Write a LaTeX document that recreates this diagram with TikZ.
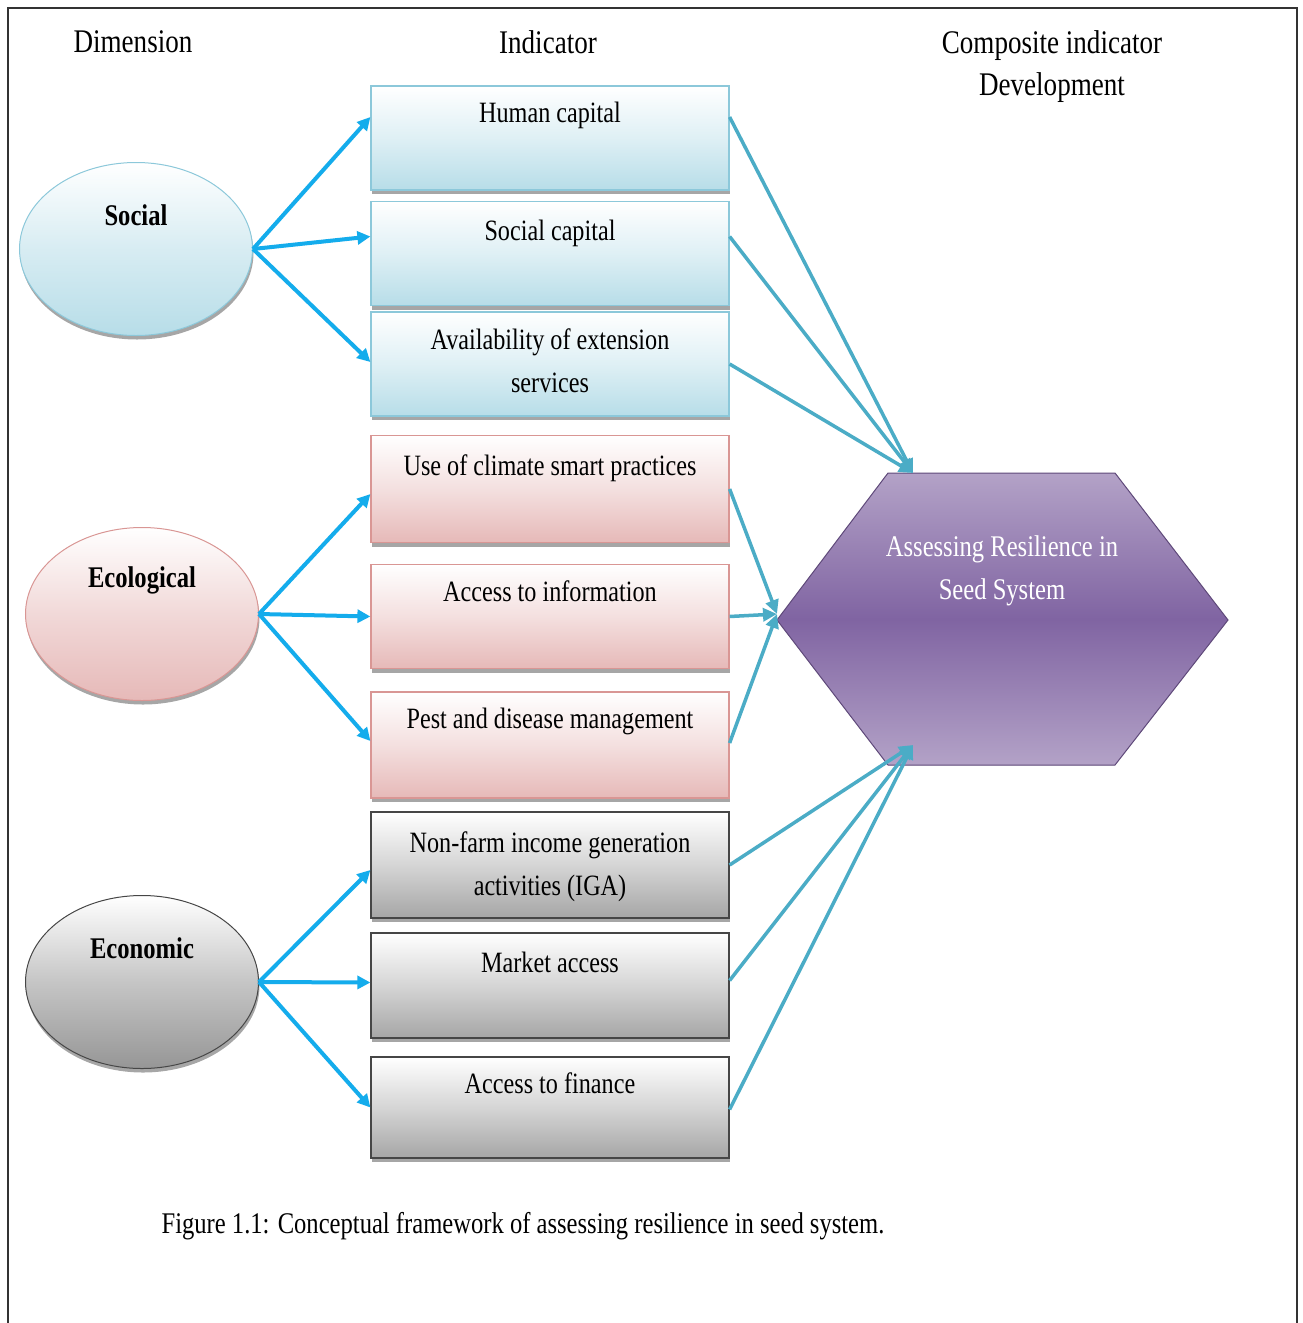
\documentclass[tikz,border=0pt]{standalone}
\usepackage{fontspec}
\setmainfont{Liberation Serif}[FakeStretch=0.82]
\usetikzlibrary{shapes.geometric,shadows,arrows.meta}
\definecolor{cyanA}{RGB}{20,172,236}
\definecolor{tealA}{RGB}{75,172,198}
\definecolor{socF}{RGB}{183,221,232}
\definecolor{socB}{RGB}{140,200,218}
\definecolor{ecoF}{RGB}{230,185,184}
\definecolor{ecoB}{RGB}{217,150,148}
\definecolor{ecnF}{RGB}{150,150,150}
\definecolor{ecnB}{RGB}{70,70,70}
\definecolor{hexM}{RGB}{128,100,162}
\definecolor{hexL}{RGB}{179,162,199}
\definecolor{hexB}{RGB}{95,73,122}
\begin{document}
\begin{tikzpicture}[x=1pt,y=-1pt,
  every node/.style={inner sep=0pt},
  heading/.style={font=\fontsize{33}{42}\selectfont, align=center},
  dimtext/.style={font=\fontsize{30}{36}\selectfont\bfseries},
  boxtext/.style={font=\fontsize{29.5}{43}\selectfont, align=center, anchor=north},
  shadowed/.style={drop shadow={shadow xshift=1pt,shadow yshift=-4pt,fill=black,opacity=0.35}},
  dimell/.style={ellipse, minimum width=233pt, minimum height=173pt, line width=1pt, shadowed},
  socell/.style={dimell, draw=socB, top color=white, bottom color=socF, middle color=socF!55},
  ecoell/.style={dimell, draw=ecoB, top color=white, bottom color=ecoF, middle color=ecoF!55},
  ecnell/.style={dimell, draw=ecnB, top color=white, bottom color=ecnF, middle color=ecnF!55},
  indbox/.style={rectangle, minimum width=358pt, minimum height=104pt, line width=1.2pt, shadowed},
  socbox/.style={indbox, draw=socB, top color=white, bottom color=socF, middle color=socF!45},
  ecobox/.style={indbox, draw=ecoB, top color=white, bottom color=ecoF, middle color=ecoF!45},
  ecnbox/.style={indbox, draw=ecnB, top color=white, bottom color=ecnF!85, middle color=ecnF!40},
  leftarr/.style={draw=cyanA, line width=4pt, -{Triangle[length=13pt,width=13pt]}},
  rightarr/.style={draw=tealA, line width=3.5pt, -{Triangle[length=14pt,width=13pt]}}
]
\useasboundingbox (0,0) rectangle (1302,1323);
\fill[white] (0,0) rectangle (1302,1323);
\draw[line width=2pt, black!80] (8,8) rectangle (1297,1345);

% headings
\node[heading] (hdim) at (133,42) {Dimension};
\node[heading] (hind) at (548,42) {Indicator};
\node[heading] (hcomp) at (1052,67) {Composite indicator\\Development};

% dimension ellipses
\node[socell, label={[dimtext, yshift=34pt]center:Social}] (soc) at (136,249) {};
\node[ecoell, label={[dimtext, yshift=34pt]center:Ecological}] (eco) at (142,614) {};
\node[ecnell, label={[dimtext, yshift=34pt]center:Economic}] (ecn) at (142,982) {};

% indicator boxes
\node[socbox, label={[boxtext, yshift=-16pt]north:Human capital}] (hc) at (550,138) {};
\node[socbox, label={[boxtext, yshift=-19pt]north:Social capital}] (sc) at (550,253.5) {};
\node[socbox, label={[boxtext, yshift=-17pt]north:Availability of extension\\services}] (av) at (550,364) {};
\node[ecobox, minimum height=107pt, label={[boxtext, yshift=-20pt]north:Use of climate smart practices}] (cl) at (550,489) {};
\node[ecobox, label={[boxtext, yshift=-17pt]north:Access to information}] (ai) at (550,616.5) {};
\node[ecobox, minimum height=106pt, label={[boxtext, yshift=-16pt]north:Pest and disease management}] (pd) at (550,745) {};
\node[ecnbox, minimum height=106pt, label={[boxtext, yshift=-20pt]north:Non-farm income generation\\activities (IGA)}] (nf) at (550,865) {};
\node[ecnbox, minimum height=105pt, label={[boxtext, yshift=-19pt]north:Market access}] (ma) at (550,985.5) {};
\node[ecnbox, minimum height=101pt, label={[boxtext, yshift=-16pt]north:Access to finance}] (fi) at (550,1107.5) {};

% hexagon
\coordinate (h1) at (888,473);
\coordinate (h2) at (1115,473);
\coordinate (h3) at (1228,620);
\coordinate (h4) at (1115,765);
\coordinate (h5) at (888,765);
\coordinate (h6) at (777,620);
\fill[black, opacity=0.35, xshift=2pt, yshift=-3pt] (h1) -- (h2) -- (h3) -- (h4) -- (h5) -- (h6) -- cycle;
\shade[top color=hexL, bottom color=hexL, middle color=hexM] (h1) -- (h2) -- (h3) -- (h4) -- (h5) -- (h6) -- cycle;
\draw[hexB, line width=1pt] (h1) -- (h2) -- (h3) -- (h4) -- (h5) -- (h6) -- cycle;
\node[font=\fontsize{30}{43}\selectfont, text=white, align=center] (hx) at (1002,571) {Assessing Resilience in\\Seed System};

\coordinate (ht) at (913,473);
\coordinate (hl) at (777,614);
\coordinate (hb) at (913,745);

% caption
\node[font=\fontsize{30}{36}\selectfont] (cap) at (523,1226) {Figure 1.1: Conceptual framework of assessing resilience in seed system.};

% left arrows
\draw[leftarr] (soc.east) -- ([yshift=21pt]hc.west);
\draw[leftarr] (soc.east) -- ([yshift=17pt]sc.west);
\draw[leftarr] (soc.east) -- ([yshift=2pt]av.west);
\draw[leftarr] (eco.east) -- ([yshift=-5pt]cl.west);
\draw[leftarr] (eco.east) -- (ai.west);
\draw[leftarr] (eco.east) -- ([yshift=4pt]pd.west);
\draw[leftarr] (ecn.east) -- ([yshift=-5pt]nf.west);
\draw[leftarr] (ecn.east) -- ([yshift=3pt]ma.west);
\draw[leftarr] (ecn.east) -- (fi.west);

% right arrows
\draw[rightarr] ([yshift=21pt]hc.east) -- (ht);
\draw[rightarr] ([yshift=17pt]sc.east) -- (ht);
\draw[rightarr] (av.east) -- (ht);
\draw[rightarr] (cl.east) -- (hl);
\draw[rightarr] (ai.east) -- (hl);
\draw[rightarr] ([yshift=2pt]pd.east) -- (hl);
\draw[rightarr] (nf.east) -- (hb);
\draw[rightarr] ([yshift=5pt]ma.east) -- (hb);
\draw[rightarr] ([yshift=-2pt]fi.east) -- (hb);
\end{tikzpicture}
\end{document}
